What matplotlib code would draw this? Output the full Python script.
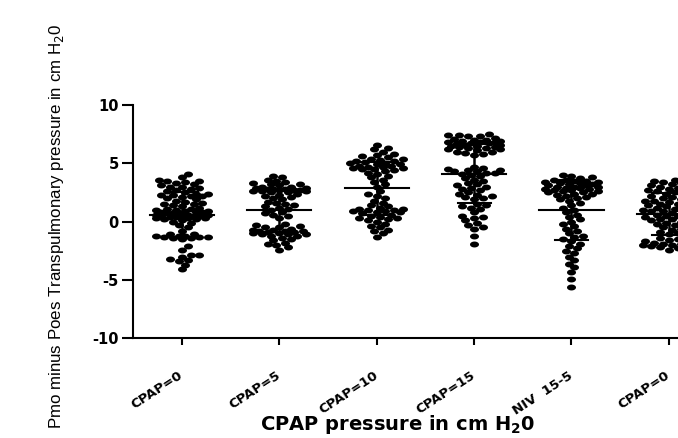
import numpy as np
import matplotlib
matplotlib.use("Agg")
import matplotlib.pyplot as plt
from matplotlib.path import Path

categories = ["CPAP=0", "CPAP=5", "CPAP=10", "CPAP=15", "NIV  15-5", "CPAP=0"]

cpap0 = [4.1, 3.8, 3.6, 3.5, 3.5, 3.4, 3.3, 3.2, 3.1, 3.0, 3.0, 2.9, 2.8, 2.7, 2.6,
         2.5, 2.4, 2.4, 2.3, 2.3, 2.2, 2.2, 2.1, 2.0, 1.9, 1.8, 1.7, 1.6, 1.5, 1.5,
         1.4, 1.3, 1.2, 1.1, 1.1, 1.0, 1.0, 0.9, 0.9, 0.8, 0.8, 0.8, 0.7, 0.7, 0.7,
         0.6, 0.6, 0.6, 0.5, 0.5, 0.5, 0.4, 0.4, 0.4, 0.3, 0.3, 0.3, 0.2, 0.2, 0.1,
         0.0, -0.1, -0.3, -0.5, -0.8, -1.1, -1.1, -1.2, -1.2, -1.2, -1.3, -1.3, -1.3,
         -1.4, -1.4, -1.5, -2.1, -2.4, -2.9, -2.9, -3.0, -3.2, -3.3, -3.4, -3.7, -4.1]
cpap5 = [3.9, 3.8, 3.6, 3.5, 3.4, 3.3, 3.2, 3.2, 3.1, 3.0, 3.0, 2.9, 2.9, 2.8, 2.8,
         2.8, 2.7, 2.7, 2.7, 2.6, 2.6, 2.6, 2.5, 2.5, 2.4, 2.3, 2.2, 2.1, 2.0, 1.9,
         1.7, 1.6, 1.5, 1.4, 1.3, 1.2, 1.1, 1.0, 0.8, 0.7, 0.6, 0.5, 0.3, -0.2, -0.3,
         -0.4, -0.5, -0.5, -0.6, -0.7, -0.7, -0.8, -0.8, -0.8, -0.9, -0.9, -1.0, -1.0,
         -1.1, -1.1, -1.1, -1.2, -1.2, -1.4, -1.5, -1.6, -1.8, -1.9, -2.0, -2.2, -2.4]
cpap10 = [6.6, 6.3, 6.2, 6.0, 5.8, 5.7, 5.6, 5.5, 5.4, 5.4, 5.3, 5.2, 5.2, 5.1, 5.0,
          5.0, 4.9, 4.9, 4.8, 4.8, 4.7, 4.7, 4.6, 4.6, 4.5, 4.5, 4.4, 4.3, 4.2, 4.1,
          3.9, 3.8, 3.6, 3.4, 3.2, 3.0, 2.6, 2.4, 2.2, 2.0, 1.8, 1.6, 1.4, 1.3, 1.2,
          1.1, 1.1, 1.0, 1.0, 0.9, 0.9, 0.8, 0.8, 0.7, 0.6, 0.5, 0.4, 0.3, 0.3, 0.2,
          0.1, 0.0, -0.2, -0.4, -0.5, -0.7, -0.8, -1.0, -1.3]
cpap15 = [7.5, 7.4, 7.4, 7.3, 7.3, 7.2, 7.1, 7.0, 7.0, 6.9, 6.9, 6.8, 6.8, 6.8, 6.7,
          6.7, 6.7, 6.6, 6.6, 6.5, 6.5, 6.4, 6.4, 6.3, 6.3, 6.2, 6.2, 6.1, 6.0, 6.0,
          5.9, 5.8, 5.7, 4.7, 4.6, 4.5, 4.4, 4.4, 4.3, 4.3, 4.2, 4.2, 4.1, 4.0, 3.9,
          3.7, 3.6, 3.5, 3.3, 3.2, 3.1, 3.0, 2.9, 2.8, 2.7, 2.5, 2.4, 2.3, 2.2, 2.1,
          2.0, 1.9, 1.5, 1.4, 1.3, 1.2, 1.1, 0.8, 0.5, 0.4, 0.3, 0.1, -0.1, -0.3,
          -0.5, -0.6, -1.2, -1.9]
niv = [4.0, 3.9, 3.8, 3.7, 3.6, 3.6, 3.5, 3.5, 3.4, 3.4, 3.3, 3.3, 3.2, 3.2, 3.1,
       3.1, 3.0, 3.0, 3.0, 2.9, 2.9, 2.8, 2.8, 2.7, 2.7, 2.6, 2.6, 2.5, 2.5, 2.4,
       2.4, 2.3, 2.2, 2.1, 2.0, 1.9, 1.8, 1.6, 1.4, 1.2, 1.0, 0.8, 0.6, 0.4, 0.2,
       0.0, -0.2, -0.4, -0.6, -0.8, -1.0, -1.2, -1.3, -1.5, -1.7, -1.9, -2.1, -2.3,
       -2.5, -2.7, -3.0, -3.3, -3.6, -3.9, -4.3, -4.9, -5.6]
cpap0_end = [3.7, 3.6, 3.5, 3.4, 3.3, 3.3, 3.2, 3.1, 3.0, 3.0, 2.9, 2.8, 2.7, 2.6,
             2.6, 2.5, 2.4, 2.3, 2.2, 2.2, 2.1, 2.0, 1.9, 1.8, 1.8, 1.7, 1.6, 1.5,
             1.5, 1.4, 1.4, 1.3, 1.2, 1.2, 1.1, 1.0, 1.0, 0.9, 0.9, 0.8, 0.7, 0.6,
             0.6, 0.5, 0.5, 0.4, 0.3, 0.2, 0.2, 0.1, 0.0, -0.1, -0.2, -0.3, -0.5,
             -0.6, -0.7, -0.9, -1.0, -1.1, -1.3, -1.4, -1.5, -1.6, -1.7, -1.8, -1.8,
             -1.9, -1.9, -2.0, -2.0, -2.1, -2.1, -2.2, -2.2, -2.3, -2.4]

groups = [cpap0, cpap5, cpap10, cpap15, niv, cpap0_end]

plt.rcParams["font.family"] = ["Liberation Sans", "DejaVu Sans"]
plt.rcParams["mathtext.fontset"] = "custom"
plt.rcParams["mathtext.rm"] = "DejaVu Sans"
plt.rcParams["mathtext.bf"] = "DejaVu Sans:bold"


def swarm(vals, w, h, step, maxoff):
    # simple capped beeswarm: nearest free slot to the centre, else least overlap
    vals = np.asarray(vals, dtype=float)
    offs = np.zeros(len(vals))
    placed = []
    cands = [0.0]
    k = 1
    while k * step <= maxoff + 1e-9:
        cands += [k * step, -k * step]
        k += 1
    for i in np.argsort(vals):
        y = vals[i]
        best, best_d = 0.0, -1
        for c in cands:
            d = min([((c - px) / w) ** 2 + ((y - py) / h) ** 2 for px, py in placed] or [9])
            if d >= 1:
                best = c
                break
            if d > best_d:
                best, best_d = c, d
        offs[i] = best
        placed.append((best, y))
    return offs


# ellipse marker, wider than tall
t = np.linspace(0, 2 * np.pi, 40)
ell = Path(np.column_stack([np.cos(t), 0.66 * np.sin(t)]), closed=True)

fig = plt.figure(figsize=(6.78, 4.38), dpi=100)
ax = fig.add_axes([0.196, 0.2276, 0.8336, 0.5327])

for i, vals in enumerate(groups):
    offs = swarm(vals, 0.085, 0.42, 0.03, 0.29)
    ax.scatter(i + offs, vals, s=42, marker=ell, color="black", linewidths=0, zorder=3)
    m = np.mean(vals)
    sd = np.std(vals, ddof=1)
    ax.plot([i - 0.33, i + 0.33], [m, m], color="black", lw=1.5, zorder=4)
    ax.plot([i, i], [m - sd, m + sd], color="black", lw=1.8, zorder=4)
    for e in (m - sd, m + sd):
        ax.plot([i - 0.17, i + 0.17], [e, e], color="black", lw=1.5, zorder=4)

ax.set_xlim(-0.503, 5.3)
ax.set_ylim(-10, 10)
ax.set_yticks([-10, -5, 0, 5, 10])
ax.set_yticklabels(["-10", "-5", "0", "5", "10"], fontweight="bold", fontsize=10.5,
                   family="DejaVu Sans")
ax.set_xticks(range(len(categories)))
ax.set_xticklabels(categories, rotation=33, ha="right", va="center",
                   rotation_mode="anchor", fontweight="bold", fontsize=9.5,
                   family="DejaVu Sans")
ax.tick_params(axis="y", length=8, width=1.5, pad=2)
ax.tick_params(axis="x", length=5, width=1.5, pad=21)
for s in ("top", "right"):
    ax.spines[s].set_visible(False)
for s in ("left", "bottom"):
    ax.spines[s].set_linewidth(1.5)

ax.set_ylabel("Pmo minus Poes Transpulmonary pressure in cm H$_2$0", fontsize=12.2)
ax.yaxis.set_label_coords(-0.118, 0.482)
fig.text(0.587, 0.004, r"CPAP pressure in cm H$_\mathbf{2}$0", fontweight="bold",
         family="DejaVu Sans", fontsize=14, ha="center", va="bottom")

fig.savefig("out.png", dpi=100)
